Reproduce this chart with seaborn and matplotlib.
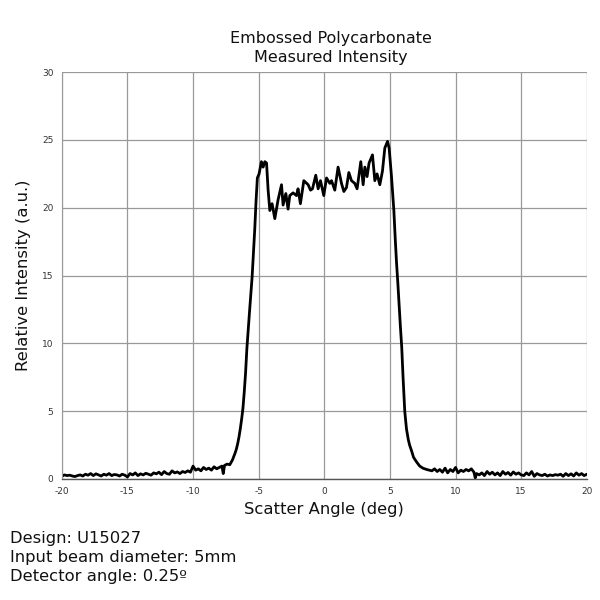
import matplotlib
matplotlib.use("Agg")
import matplotlib.pyplot as plt
import seaborn as sns
import pandas as pd

# ---- data ----
angle_left = [-20.0, -19.8, -19.6, -19.4, -19.2, -19.0, -18.8, -18.6, -18.4, -18.2,
              -18.0, -17.8, -17.6, -17.4, -17.2, -17.0, -16.8, -16.6, -16.4, -16.2,
              -16.0, -15.8, -15.6, -15.4, -15.2, -15.0, -14.8, -14.6, -14.4, -14.2,
              -14.0, -13.8, -13.6, -13.4, -13.2, -13.0, -12.8, -12.6, -12.4, -12.2,
              -12.0, -11.8, -11.6, -11.4, -11.2, -11.0, -10.8, -10.6, -10.4, -10.2,
              -10.0, -9.8, -9.6, -9.4, -9.2, -9.0, -8.8, -8.6, -8.4, -8.2,
              -8.0, -7.8, -7.7, -7.6, -7.4, -7.2, -7.0]
intensity_left = [0.20, 0.30, 0.25, 0.28, 0.22, 0.18, 0.25, 0.30, 0.22, 0.35,
                  0.28, 0.40, 0.25, 0.38, 0.30, 0.22, 0.35, 0.28, 0.40, 0.25,
                  0.33, 0.30, 0.22, 0.35, 0.28, 0.15, 0.40, 0.30, 0.45, 0.25,
                  0.38, 0.30, 0.42, 0.35, 0.28, 0.45, 0.38, 0.50, 0.32, 0.55,
                  0.40, 0.35, 0.60, 0.45, 0.52, 0.40, 0.55, 0.48, 0.60, 0.50,
                  0.95, 0.65, 0.75, 0.60, 0.85, 0.70, 0.80, 0.65, 0.90, 0.75,
                  0.85, 0.95, 0.40, 1.00, 1.10, 1.05, 1.40]

angle_rise = [-6.9, -6.8, -6.7, -6.6, -6.5, -6.4, -6.3, -6.2, -6.1, -6.0,
              -5.9, -5.8, -5.7, -5.6, -5.5, -5.4, -5.3, -5.2, -5.1]
intensity_rise = [1.65, 1.90, 2.20, 2.60, 3.10, 3.70, 4.40, 5.20, 6.40, 7.80,
                  9.60, 11.0, 12.3, 13.6, 14.9, 16.6, 18.4, 20.5, 22.2]

angle_top = [-4.97, -4.79, -4.66, -4.53, -4.40, -4.28, -4.15, -3.98, -3.77, -3.52,
             -3.26, -3.14, -2.93, -2.76, -2.63, -2.38, -2.12, -2.00, -1.82, -1.56,
             -1.23, -1.05, -0.90, -0.65, -0.47, -0.29, -0.04, 0.17, 0.42, 0.55,
             0.80, 1.05, 1.31, 1.49, 1.69, 1.87, 2.07, 2.32, 2.50, 2.78,
             2.96, 3.09, 3.26, 3.41, 3.67, 3.85, 4.02, 4.23, 4.43, 4.61,
             4.82, 4.94, 5.12]
intensity_top = [22.5, 23.4, 23.0, 23.4, 23.3, 21.3, 19.8, 20.3, 19.2, 20.6,
                 21.7, 20.2, 21.05, 19.9, 20.9, 21.1, 20.9, 21.4, 20.3, 22.0,
                 21.7, 21.3, 21.4, 22.4, 21.4, 22.0, 20.9, 22.2, 21.8, 22.0,
                 21.3, 23.0, 21.8, 21.2, 21.5, 22.6, 22.0, 21.8, 21.4, 23.4,
                 21.7, 23.0, 22.3, 23.3, 23.9, 22.0, 22.5, 21.7, 22.7, 24.4,
                 24.9, 24.4, 22.3]

angle_fall = [5.3, 5.4, 5.5, 5.6, 5.7, 5.8, 5.9, 6.0, 6.13, 6.26,
              6.4, 6.5, 6.64, 6.8, 7.02, 7.27, 7.53, 7.8]
intensity_fall = [19.8, 17.8, 16.0, 14.5, 12.8, 11.2, 9.7, 7.5, 5.0, 3.7,
                  2.9, 2.5, 2.1, 1.6, 1.27, 0.95, 0.79, 0.70]

angle_right = [8.0, 8.2, 8.4, 8.6, 8.8, 9.0, 9.2, 9.4, 9.6, 9.8,
               10.0, 10.2, 10.4, 10.6, 10.8, 11.0, 11.2, 11.4, 11.5, 11.6,
               11.8, 12.0, 12.2, 12.4, 12.6, 12.8, 13.0, 13.2, 13.4, 13.6,
               13.8, 14.0, 14.2, 14.4, 14.6, 14.8, 15.0, 15.2, 15.4, 15.6,
               15.8, 16.0, 16.2, 16.4, 16.6, 16.8, 17.0, 17.2, 17.4, 17.6,
               17.8, 18.0, 18.2, 18.4, 18.6, 18.8, 19.0, 19.2, 19.4, 19.6,
               19.8, 20.0]
intensity_right = [0.65, 0.60, 0.75, 0.55, 0.70, 0.50, 0.80, 0.45, 0.70, 0.55,
                   0.85, 0.45, 0.65, 0.55, 0.70, 0.60, 0.75, 0.50, 0.08, 0.40,
                   0.30, 0.45, 0.25, 0.55, 0.35, 0.50, 0.30, 0.45, 0.25, 0.55,
                   0.35, 0.48, 0.28, 0.52, 0.35, 0.45, 0.30, 0.25, 0.45, 0.30,
                   0.55, 0.20, 0.40, 0.30, 0.25, 0.35, 0.22, 0.30, 0.25, 0.32,
                   0.28, 0.35, 0.20, 0.40, 0.25, 0.38, 0.22, 0.45, 0.28, 0.40,
                   0.25, 0.35]

x_ticks = [-20, -15, -10, -5, 0, 5, 10, 15, 20]
y_ticks = [0, 5, 10, 15, 20, 25, 30]

angles = angle_left + angle_rise + angle_top + angle_fall + angle_right
intensity = intensity_left + intensity_rise + intensity_top + intensity_fall + intensity_right
df = pd.DataFrame({"angle": angles, "intensity": intensity})

sns.set_style("whitegrid", {"grid.color": "#999999", "axes.edgecolor": "#999999"})
plt.rcParams["font.family"] = ["DejaVu Sans"]
plt.rcParams["axes.unicode_minus"] = False

fig = plt.figure(figsize=(6, 6), dpi=100)
ax = fig.add_axes([0.103, 0.2017, 0.875, 0.678])
sns.lineplot(data=df, x="angle", y="intensity", sort=False, color="black",
             linewidth=2.0, ax=ax)

ax.set_xlim(-20, 20)
ax.set_ylim(0, 30)
ax.set_xticks(x_ticks)
ax.set_yticks(y_ticks)
ax.tick_params(axis="both", labelsize=6.5, length=0, pad=6, colors="#333333")
ax.grid(True, color="#999999", linewidth=0.9)
for s in ["top", "right"]:
    ax.spines[s].set_visible(False)
ax.spines["left"].set_color("#999999")
ax.spines["bottom"].set_color("#555555")
ax.spines["bottom"].set_linewidth(1.0)

ax.set_xlabel("Scatter Angle (deg)", fontsize=11.8, color="#111111", labelpad=4)
ax.set_ylabel("Relative Intensity (a.u.)", fontsize=11.8, color="#111111", labelpad=8)
fig.text(0.552, 0.920, "Embossed Polycarbonate\nMeasured Intensity", ha="center",
         va="center", fontsize=11.5, color="#111111", linespacing=1.35)

fig.text(0.017, 0.071, "Design: U15027\nInput beam diameter: 5mm\nDetector angle: 0.25º",
         ha="left", va="center", fontsize=11.8, color="#111111", linespacing=1.35)

fig.savefig("out.png", dpi=100, facecolor="white")
